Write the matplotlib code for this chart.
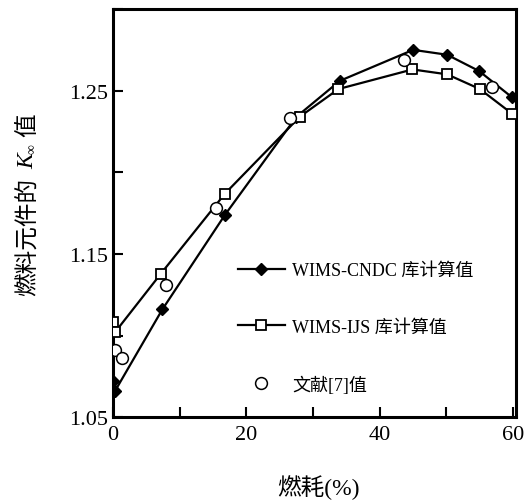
import matplotlib
matplotlib.use('Agg')
import matplotlib.pyplot as plt
from matplotlib.ticker import MultipleLocator

plt.rcParams['font.family'] = ['Liberation Serif', 'Noto Sans CJK SC']

# WIMS-CNDC 库计算值
cndc_x = [0.0, 0.3, 7.4, 16.8, 27.5, 34.0, 45.0, 50.1, 54.9, 59.8]
cndc_y = [1.072, 1.066, 1.116, 1.174, 1.234, 1.256, 1.275, 1.272, 1.262, 1.246]

# WIMS-IJS 库计算值
ijs_x = [0.0, 0.3, 7.2, 16.8, 28.0, 33.8, 44.9, 50.1, 55.0, 59.8]
ijs_y = [1.108, 1.102, 1.138, 1.187, 1.234, 1.251, 1.263, 1.260, 1.251, 1.236]

# 文献[7]值
ref_x = [0.3, 1.4, 7.9, 15.4, 26.6, 43.6, 56.8]
ref_y = [1.091, 1.086, 1.131, 1.178, 1.233, 1.269, 1.252]

x_ticks = [0, 20, 40, 60]
y_ticks = [1.05, 1.15, 1.25]
y_tick_labels = ['1.05', '1.15', '1.25']

fig = plt.figure(figsize=(5.28, 5.02), dpi=100)
ax = fig.add_axes([0.214, 0.167, 0.763, 0.813])

ax.plot(cndc_x, cndc_y, '-', color='black', lw=1.6, marker='D', ms=6.5,
        mfc='black', mec='black', label='WIMS-CNDC 库计算值', zorder=3)
ax.plot(ijs_x, ijs_y, '-', color='black', lw=1.6, marker='s', ms=7,
        mfc='white', mec='black', mew=1.3, label='WIMS-IJS 库计算值', zorder=3)
ax.plot(ref_x, ref_y, 'o', ms=8.5, mfc='white', mec='black', mew=1.1,
        label='文献[7]值', zorder=4)

ax.set_xlim(0, 60.4)
ax.set_ylim(1.05, 1.300)
ax.set_xticks(x_ticks)
ax.xaxis.set_minor_locator(MultipleLocator(10))
ax.set_yticks(y_ticks)
ax.set_yticklabels(y_tick_labels)
ax.yaxis.set_minor_locator(MultipleLocator(0.05))
ax.tick_params(which='both', direction='in', labelsize=16, width=1.5, length=7)
ax.tick_params(axis='x', pad=6)
for sp in ax.spines.values():
    sp.set_linewidth(2.2)

ax.set_xlabel('燃耗(%)', fontsize=17)
ax.xaxis.set_label_coords(0.51, -0.14)

# y 轴标题：中文 + 斜体 K + 下标 ∞，分段拼接
t1 = ax.text(-0.211, 0.30, '燃料元件的', transform=ax.transAxes, rotation=90,
             fontsize=17, family='Noto Sans CJK SC', ha='center', va='bottom')
t2 = ax.annotate('K', xy=(0.5, 1), xycoords=t1, xytext=(0, 6),
                 textcoords='offset points', rotation=90, fontsize=17,
                 family='Liberation Serif', style='italic', ha='center', va='bottom')
t3 = ax.annotate('∞', xy=(1.0, 1), xycoords=t2, xytext=(0, 0),
                 textcoords='offset points', rotation=90, fontsize=10,
                 family='Liberation Serif', ha='right', va='bottom')
ax.annotate('值', xy=(0.5, 1), xycoords=t2, xytext=(0, 12),
            textcoords='offset points', rotation=90, fontsize=17,
            family='Noto Sans CJK SC', ha='center', va='bottom')

ax.legend(loc='upper left', bbox_to_anchor=(0.31, 0.38), frameon=False,
          fontsize=13, handlelength=2.6, handletextpad=0.4, labelspacing=2.2,
          borderpad=0, borderaxespad=0)

fig.savefig('out.png', dpi=100)
